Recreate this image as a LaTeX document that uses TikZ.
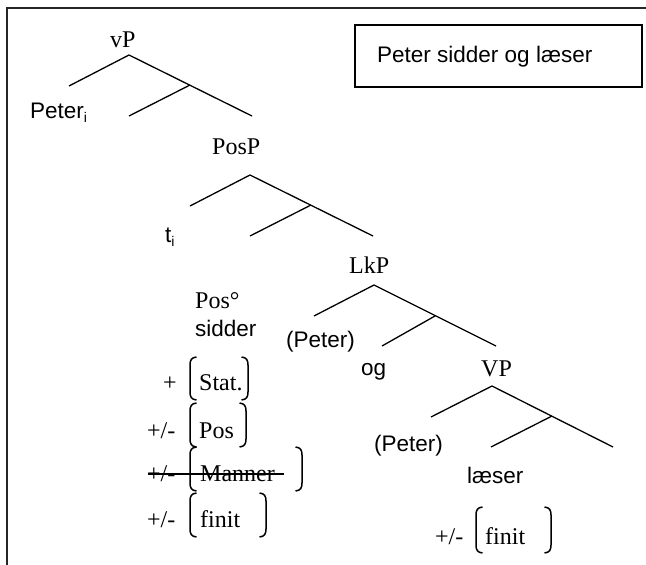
\documentclass[tikz,border=0pt]{standalone}
\usepackage{fontspec}
\setmainfont{Liberation Serif}
\newfontfamily\sansf{Liberation Sans}
\tikzset{
  serif/.style={inner sep=0pt, anchor=base west, font=\fontsize{24}{28}\selectfont},
  sans/.style={inner sep=0pt, anchor=base west, font=\sansf\fontsize{22.5}{27}\selectfont},
  branch/.style={line width=1.3pt, black},
  brk/.style={line width=1.5pt, black},
  frame/.style={line width=2pt, black!85},
}
\newcommand\brkL[3]{\draw[brk] (#1+6.5,#2) .. controls (#1+1.5,#2+0.5) and (#1,#2+3) .. (#1,#2+8) -- (#1,#3-8) .. controls (#1,#3-3) and (#1+1.5,#3-0.5) .. (#1+6.5,#3);}
\newcommand\brkR[3]{\draw[brk] (#1-6.5,#2) .. controls (#1-1.5,#2+0.5) and (#1,#2+3) .. (#1,#2+8) -- (#1,#3-8) .. controls (#1,#3-3) and (#1-1.5,#3-0.5) .. (#1-6.5,#3);}
\begin{document}
\begin{tikzpicture}[x=1pt,y=-1pt]
\useasboundingbox (0,0) rectangle (646,565);
% outer frame (top and left only visible)
\coordinate (fTL) at (7,8);
\coordinate (fTR) at (646,8);
\coordinate (fBL) at (7,565);
\draw[frame] (fTR) -- (fTL) -- (fBL);
% title box
\node[draw, line width=1.6pt, minimum width=287pt, minimum height=62pt, inner sep=0pt] (box) at (498.5,56) {};
\node[sans] (title) at (377,62) {Peter sidder og læser};
% vP tree
\node[serif] (vP) at (110,47) {vP};
\coordinate (A1) at (129,55);
\coordinate (L1) at (69,86);
\coordinate (M1) at (190,85);
\coordinate (ML1) at (129,116);
\coordinate (R1) at (252,116);
\draw[branch] (L1) -- (A1) -- (R1);
\draw[branch] (M1) -- (ML1);
\node[sans] (peter) at (30,118) {Peter\raisebox{-4pt}{\fontsize{14}{14}\selectfont i}};
% PosP tree
\node[serif] (PosP) at (212,154) {PosP};
\coordinate (A2) at (250,175);
\coordinate (L2) at (190,206);
\coordinate (M2) at (311,205);
\coordinate (ML2) at (250,236);
\coordinate (R2) at (373,236);
\draw[branch] (L2) -- (A2) -- (R2);
\draw[branch] (M2) -- (ML2);
\node[sans] (ti) at (165,242) {t\raisebox{-4pt}{\fontsize{14}{14}\selectfont i}};
% LkP tree
\node[serif] (LkP) at (349,273) {LkP};
\coordinate (A3) at (374,285);
\coordinate (L3) at (314,316);
\coordinate (M3) at (435,316);
\coordinate (ML3) at (382,346);
\coordinate (R3) at (496,346);
\draw[branch] (L3) -- (A3) -- (R3);
\draw[branch] (M3) -- (ML3);
\node[sans] (peter2) at (286,347) {(Peter)};
\node[sans] (og) at (361,375) {og};
% VP tree
\node[serif] (VP) at (481,376) {VP};
\coordinate (A4) at (492,386);
\coordinate (L4) at (431,417);
\coordinate (M4) at (552,416);
\coordinate (ML4) at (491,447);
\coordinate (R4) at (613,447);
\draw[branch] (L4) -- (A4) -- (R4);
\draw[branch] (M4) -- (ML4);
\node[sans] (peter3) at (374,451) {(Peter)};
\node[sans] (laeser) at (467,483) {læser};
% Pos head
\node[serif] (Poshead) at (195,308) {Pos°};
\node[sans] (sidder) at (195,336) {sidder};
% features
\node[serif] (plus1) at (163,390) {+};
\node[serif] (Stat) at (199,390) {Stat.};
\brkL{190}{357}{400}
\brkR{248}{357}{400}
\node[serif] (pm2) at (147,438) {+/-};
\node[serif] (Pos) at (199,438) {Pos};
\brkL{190}{403}{447}
\brkR{246}{403}{447}
\node[serif] (pm3) at (147,481) {+/-};
\node[serif] (Manner) at (200,481) {Manner};
\brkL{190}{447}{491}
\brkR{302}{447}{491}
\coordinate (sL) at (148,474);
\coordinate (sR) at (284,474);
\draw[line width=1.3pt] (sL) -- (sR);
\node[serif] (pm4) at (147,527) {+/-};
\node[serif] (finit) at (200,527) {finit};
\brkL{190}{493}{537}
\brkR{266}{493}{537}
% right finit
\node[serif] (pm5) at (435,544) {+/-};
\node[serif] (finit2) at (485,544) {finit};
\brkL{476}{507}{553}
\brkR{551}{507}{553}
\end{tikzpicture}
\end{document}
